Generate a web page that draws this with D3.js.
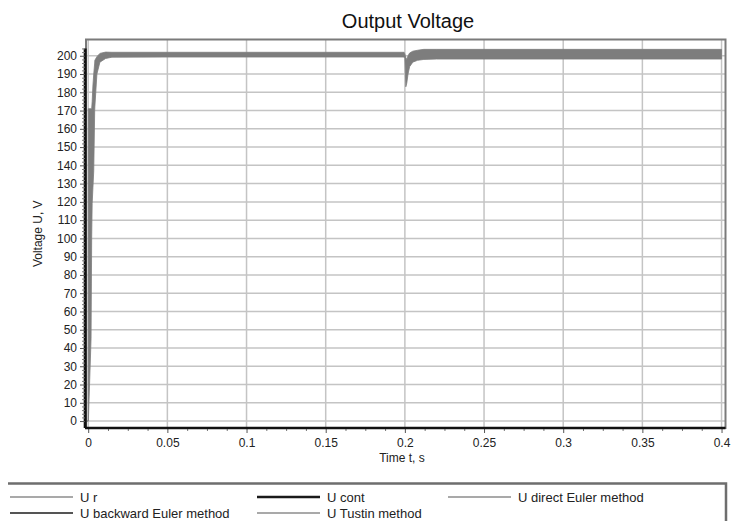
<!DOCTYPE html>
<html>
<head>
<meta charset="utf-8">
<script src="https://cdn.jsdelivr.net/npm/d3@7"></script>
<style>
  body { margin: 0; background: #fff; }
  svg { font-family: "Liberation Sans", Arial, sans-serif; }
</style>
</head>
<body>
<svg width="733" height="521"></svg>
<script>
// envelope of the output voltage band
const times = [-0.0012, 0, 0.0001, 0.0018, 0.0022, 0.0025, 0.003, 0.0035, 0.0041, 0.0042, 0.0055, 0.0074, 0.011, 0.015,
  0.05, 0.1, 0.15, 0.1995, 0.2, 0.2006, 0.2012, 0.202, 0.203, 0.205, 0.208, 0.212, 0.22, 0.25, 0.3, 0.35, 0.4];
const upperV = [0, 0, 171, 171, 171, 175, 184, 190, 196, 197.5, 199.5, 201.3, 202, 201.9,
  201.9, 201.9, 201.9, 201.9, 201, 199, 198, 200, 201.5, 202.5, 203, 203.5, 203.5, 203.5, 203.5, 203.5, 203.5];
const lowerV = [0, 0, 0, 45, 100, 119, 128, 137, 170, 172, 190, 196.5, 198.5, 199.2,
  199.3, 199.3, 199.3, 199.3, 198.5, 183, 185, 190, 194, 196.5, 197.5, 198, 198.2, 198.2, 198.2, 198.2, 198.2];

// black reference trace along the left edge
const contT = [-0.0019, -0.0019];
const contV = [-3.8, 204];

const yTicks = d3.range(0, 201, 10);
const xTicks = [0, 0.05, 0.1, 0.15, 0.2, 0.25, 0.3, 0.35, 0.4];

const legendNames = ["U r", "U cont", "U direct Euler method", "U backward Euler method", "U Tustin method"];
const legendColors = ["#8c8c8c", "#1a1a1a", "#8c8c8c", "#555555", "#8c8c8c"];
const legendWidths = [1.5, 2.5, 1.5, 2, 1.5];

const svg = d3.select("svg");
const margin = { top: 39.5, right: 7.5, bottom: 93, left: 86 };
const W = 733, H = 521;

const x = d3.scaleLinear()
  .domain([-0.00139, 0.4025])
  .range([margin.left, W - margin.right]);

const y = d3.scaleLinear()
  .domain([-3.8, 208.9])
  .range([H - margin.bottom, margin.top]);

// grid
svg.append("g")
  .selectAll("line")
  .data(yTicks)
  .join("line")
  .attr("x1", margin.left)
  .attr("x2", W - margin.right)
  .attr("y1", d => y(d))
  .attr("y2", d => y(d))
  .attr("stroke", "#c4c4c4")
  .attr("stroke-width", 1.5);

svg.append("g")
  .selectAll("line")
  .data(xTicks)
  .join("line")
  .attr("x1", d => x(d))
  .attr("x2", d => x(d))
  .attr("y1", margin.top)
  .attr("y2", H - margin.bottom)
  .attr("stroke", "#c4c4c4")
  .attr("stroke-width", 1.5);

// frame
svg.append("rect")
  .attr("x", margin.left)
  .attr("y", margin.top)
  .attr("width", W - margin.right - margin.left)
  .attr("height", H - margin.bottom - margin.top)
  .attr("fill", "none")
  .attr("stroke", "#7a7a7a")
  .attr("stroke-width", 2);

// data band
const band = times.map((t, i) => ({ t, hi: upperV[i], lo: lowerV[i] }));
const area = d3.area()
  .x(d => x(d.t))
  .y0(d => y(d.lo))
  .y1(d => y(d.hi));

svg.append("path")
  .datum(band)
  .attr("d", area)
  .attr("fill", "#7d7d7d")
  .attr("stroke", "#7d7d7d")
  .attr("stroke-width", 0.8);

svg.append("path")
  .datum(contT.map((t, i) => [t, contV[i]]))
  .attr("d", d3.line().x(d => x(d[0])).y(d => y(d[1])))
  .attr("stroke", "#111")
  .attr("stroke-width", 3);

// axes
const yAxis = svg.append("g")
  .attr("transform", `translate(${margin.left - 1},0)`)
  .call(d3.axisLeft(y).tickValues(yTicks).tickSize(5).tickPadding(3));
yAxis.select(".domain").remove();
yAxis.selectAll(".tick line").attr("stroke", "#555");
yAxis.selectAll("text").attr("font-size", 12).attr("fill", "#222")
  .attr("font-family", "Liberation Sans, Arial, sans-serif");

svg.append("g")
  .attr("transform", `translate(${margin.left - 1},0)`)
  .call(d3.axisLeft(y).tickValues(d3.range(0, 206, 2).filter(v => v % 10 !== 0)).tickSize(3).tickFormat(""))
  .call(g => g.select(".domain").remove())
  .selectAll("line").attr("stroke", "#777");

const xAxis = svg.append("g")
  .attr("transform", `translate(0,${H - margin.bottom})`)
  .call(d3.axisBottom(x).tickValues(xTicks).tickSize(5).tickPadding(5)
    .tickFormat(d => d === 0 ? "0" : String(+d.toFixed(2))));
xAxis.select(".domain").remove();
xAxis.selectAll(".tick line").attr("stroke", "#555");
xAxis.selectAll("text").attr("font-size", 12).attr("fill", "#222")
  .attr("font-family", "Liberation Sans, Arial, sans-serif");

svg.append("g")
  .attr("transform", `translate(0,${H - margin.bottom})`)
  .call(d3.axisBottom(x).tickValues(d3.range(0, 0.4, 0.0125).filter((v, i) => i % 4 !== 0)).tickSize(3).tickFormat(""))
  .call(g => g.select(".domain").remove())
  .selectAll("line").attr("stroke", "#777");

svg.append("line")
  .attr("x1", margin.left - 1)
  .attr("x2", W - margin.right)
  .attr("y1", H - margin.bottom)
  .attr("y2", H - margin.bottom)
  .attr("stroke", "#111")
  .attr("stroke-width", 2.5);

// titles
svg.append("text")
  .attr("x", 408)
  .attr("y", 28)
  .attr("text-anchor", "middle")
  .style("font-size", "20px")
  .attr("fill", "#111")
  .text("Output Voltage");

svg.append("text")
  .attr("transform", "rotate(-90)")
  .attr("x", -(margin.top + (H - margin.bottom)) / 2)
  .attr("y", 42)
  .attr("text-anchor", "middle")
  .style("font-size", "12px")
  .attr("fill", "#222")
  .text("Voltage U, V");

svg.append("text")
  .attr("x", 402)
  .attr("y", 462)
  .attr("text-anchor", "middle")
  .style("font-size", "12px")
  .attr("fill", "#222")
  .text("Time t, s");

// legend
const legend = svg.append("g");
legend.append("path")
  .attr("d", "M8,483.5H726V521")
  .attr("fill", "none")
  .attr("stroke", "#6e6e6e")
  .attr("stroke-width", 2.5);

const colX = [10, 257, 448];
const rowY = [497, 513];
const items = legend.selectAll("g.item")
  .data(legendNames)
  .join("g")
  .attr("class", "item")
  .attr("transform", (d, i) => `translate(${colX[i % 3]},${rowY[Math.floor(i / 3)]})`);

items.append("line")
  .attr("x1", 0).attr("x2", 63)
  .attr("stroke", (d, i) => legendColors[i])
  .attr("stroke-width", (d, i) => legendWidths[i]);

items.append("text")
  .attr("x", 70)
  .attr("dy", "0.35em")
  .style("font-size", "13px")
  .attr("fill", "#222")
  .text(d => d);
</script>
</body>
</html>
